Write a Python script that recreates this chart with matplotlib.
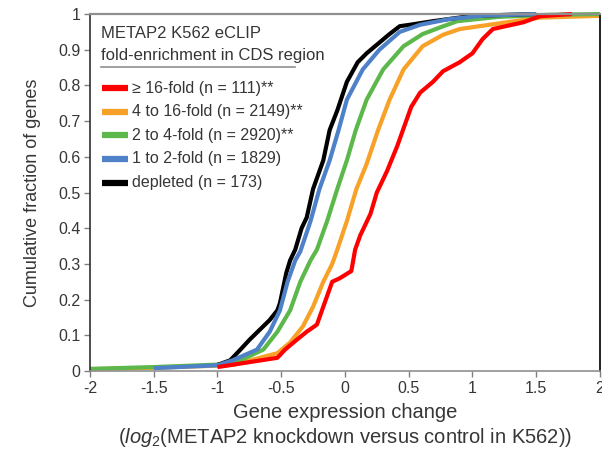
import matplotlib
matplotlib.use("Agg")
import matplotlib.pyplot as plt

plt.rcParams['font.family'] = ['Liberation Sans', 'DejaVu Sans']
plt.rcParams['mathtext.fontset'] = 'custom'
plt.rcParams['mathtext.rm'] = 'Liberation Sans'
plt.rcParams['mathtext.it'] = 'Liberation Sans:italic'

# Cumulative distributions (x: log2 fold change, y: cumulative fraction)
red_x = [-1.00, -0.53, -0.47, -0.38, -0.30, -0.22, -0.16, -0.10, -0.04, 0.05, 0.08, 0.12,
         0.20, 0.25, 0.33, 0.41, 0.46, 0.52, 0.59, 0.69, 0.77, 0.90, 1.00, 1.08, 1.16,
         1.40, 1.53, 1.78]
red_y = [0.011, 0.037, 0.06, 0.087, 0.11, 0.13, 0.19, 0.25, 0.26, 0.28, 0.34, 0.38,
         0.44, 0.50, 0.56, 0.63, 0.68, 0.74, 0.78, 0.81, 0.84, 0.865, 0.89, 0.93, 0.958,
         0.977, 0.994, 1.0]

orange_x = [-2.00, -1.50, -1.00, -0.88, -0.53, -0.43, -0.33, -0.25, -0.17, -0.10, -0.06,
            0.015, 0.09, 0.17, 0.26, 0.35, 0.46, 0.61, 0.77, 0.90, 1.27, 1.53, 2.00]
orange_y = [0.005, 0.009, 0.015, 0.017, 0.05, 0.08, 0.125, 0.18, 0.25, 0.30, 0.34,
            0.42, 0.51, 0.58, 0.675, 0.76, 0.845, 0.91, 0.942, 0.958, 0.977, 0.99, 0.995]

green_x = [-2.00, -1.50, -1.00, -0.85, -0.64, -0.53, -0.43, -0.35, -0.27, -0.22, -0.14,
           -0.06, 0.015, 0.085, 0.17, 0.30, 0.46, 0.61, 0.75, 0.88, 1.20, 1.60, 2.00]
green_y = [0.006, 0.011, 0.018, 0.025, 0.06, 0.11, 0.17, 0.25, 0.31, 0.34, 0.42,
           0.51, 0.59, 0.675, 0.76, 0.845, 0.91, 0.944, 0.963, 0.98, 0.992, 0.998, 1.0]

blue_x = [-1.50, -1.00, -0.88, -0.69, -0.59, -0.51, -0.45, -0.39, -0.35, -0.27, -0.20,
          -0.12, -0.05, 0.015, 0.14, 0.27, 0.43, 0.59, 0.82, 1.10, 1.50]
blue_y = [0.008, 0.016, 0.03, 0.06, 0.11, 0.17, 0.25, 0.31, 0.335, 0.42, 0.51,
          0.59, 0.675, 0.76, 0.845, 0.90, 0.95, 0.97, 0.986, 0.996, 1.0]

black_x = [-1.00, -0.90, -0.82, -0.75, -0.67, -0.59, -0.53, -0.51, -0.46, -0.43, -0.39,
           -0.34, -0.30, -0.25, -0.17, -0.12, -0.06, 0.015, 0.10, 0.17, 0.27, 0.35,
           0.43, 0.51, 0.69, 1.00, 1.50]
black_y = [0.017, 0.03, 0.06, 0.087, 0.115, 0.143, 0.17, 0.19, 0.275, 0.31, 0.34,
           0.40, 0.43, 0.51, 0.59, 0.675, 0.73, 0.81, 0.865, 0.89, 0.92, 0.944,
           0.966, 0.97, 0.98, 0.995, 1.0]

series = [
    (orange_x, orange_y, '#F7A128'),
    (green_x, green_y, '#5DB84B'),
    (black_x, black_y, '#000000'),
    (blue_x, blue_y, '#4F81C8'),
    (red_x, red_y, '#FF0000'),
]

legend_labels = ['\u2265 16-fold (n = 111)**', '4 to 16-fold (n = 2149)**',
                 '2 to 4-fold (n = 2920)**', '1 to 2-fold (n = 1829)', 'depleted (n = 173)']
legend_colors = ['#FF0000', '#F7A128', '#5DB84B', '#4F81C8', '#000000']

x_ticks = [-2, -1.5, -1, -0.5, 0, 0.5, 1, 1.5, 2]
x_tick_labels = ['-2', '-1.5', '-1', '-0.5', '0', '0.5', '1', '1.5', '2']
y_ticks = [0, 0.1, 0.2, 0.3, 0.4, 0.5, 0.6, 0.7, 0.8, 0.9, 1]
y_tick_labels = ['0', '0.1', '0.2', '0.3', '0.4', '0.5', '0.6', '0.7', '0.8', '0.9', '1']

text_color = '#363636'

fig = plt.figure(figsize=(6.02, 4.49), dpi=100)
ax = fig.add_axes([0.1495, 0.1737, 0.847, 0.795])

for xs, ys, c in series:
    ax.plot(xs, ys, color=c, lw=3.0, solid_joinstyle='round', solid_capstyle='butt', clip_on=False)

ax.set_xlim(-2, 2)
ax.set_ylim(0, 1)
ax.set_xticks(x_ticks)
ax.set_xticklabels(x_tick_labels)
ax.set_yticks(y_ticks)
ax.set_yticklabels(y_tick_labels)
ax.tick_params(axis='both', direction='out', length=4, width=1, color='#808080',
               labelsize=11.5, labelcolor=text_color, pad=3)

ax.spines['top'].set_color('#909090')
ax.spines['top'].set_linewidth(1.6)
ax.spines['bottom'].set_color('#909090')
ax.spines['bottom'].set_linewidth(1.2)
ax.spines['left'].set_color('#303030')
ax.spines['left'].set_linewidth(1.2)
ax.spines['right'].set_color('#202020')
ax.spines['right'].set_linewidth(1.4)

ax.set_ylabel('Cumulative fraction of genes', fontsize=13, color=text_color, labelpad=12)
ax.set_xlabel('Gene expression change\n($\\mathit{log}_{2}$(METAP2 knockdown versus control in K562))',
              fontsize=14.5, color=text_color, labelpad=5, linespacing=1.25)

# Legend header with underline
ax.text(0.021, 0.945, 'METAP2 K562 eCLIP', transform=ax.transAxes, fontsize=12,
        color=text_color, va='center', ha='left')
ax.text(0.021, 0.884, 'fold-enrichment in CDS region', transform=ax.transAxes, fontsize=12,
        color=text_color, va='center', ha='left')
ax.plot([0.021, 0.402], [0.851, 0.851], transform=ax.transAxes, color='#909090', lw=1.2)

# Legend entries
row_top = 0.792
row_step = 0.066
for i, (lab, c) in enumerate(zip(legend_labels, legend_colors)):
    yy = row_top - i * row_step
    ax.plot([0.0235, 0.0745], [yy, yy], transform=ax.transAxes, color=c, lw=4.5,
            solid_capstyle='butt')
    ax.text(0.082, yy, lab, transform=ax.transAxes, fontsize=11.5, color=text_color,
            va='center', ha='left')

fig.savefig('out.png', dpi=100)
